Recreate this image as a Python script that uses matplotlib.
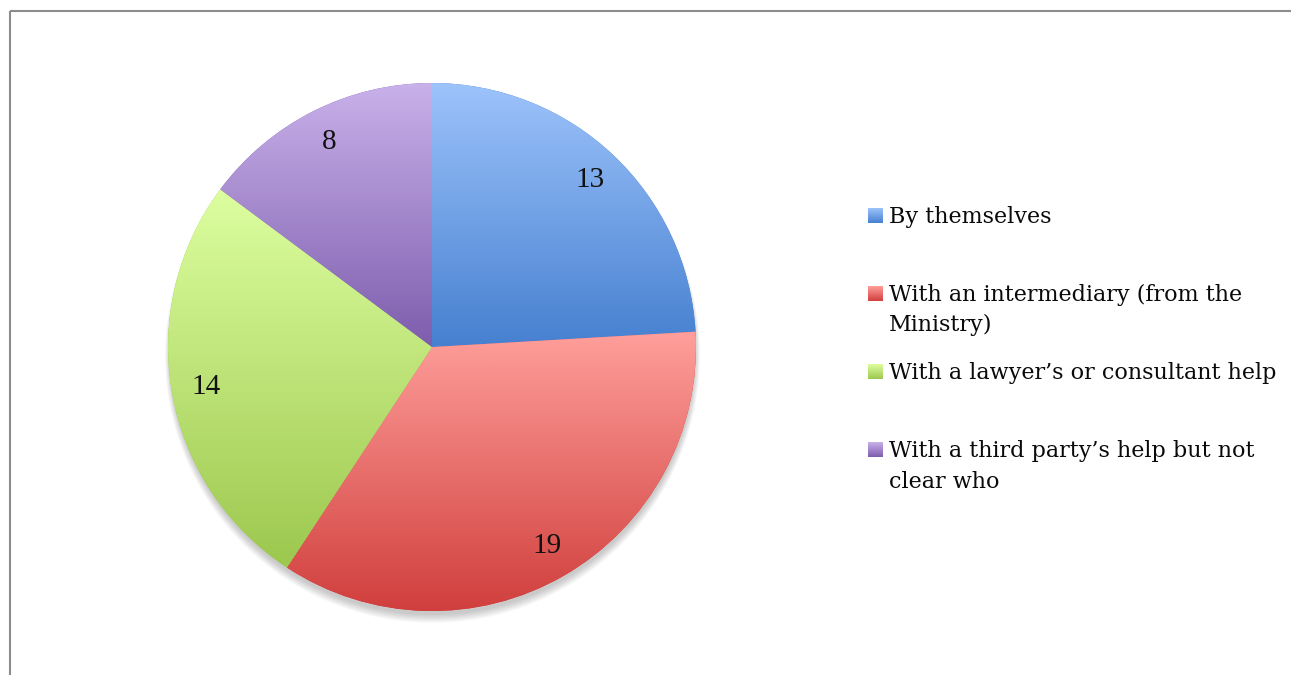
import matplotlib
matplotlib.use("Agg")
import matplotlib.pyplot as plt
import numpy as np
from matplotlib.colors import LinearSegmentedColormap
from matplotlib.patches import Circle, Rectangle

# ---- data ----
categories = [
    "By themselves",
    "With an intermediary (from the\nMinistry)",
    "With a lawyer\u2019s or consultant help",
    "With a third party\u2019s help but not\nclear who",
]
values = [13, 19, 14, 8]
value_labels = [str(v) for v in values]

# gradient colours (top -> bottom) per slice
top_colors = ["#9dc3fb", "#ff9f9b", "#ddfea0", "#c9b1ea"]
bottom_colors = ["#4680d0", "#d03f3d", "#9cc84e", "#7d5dad"]

W, H = 1291, 675
fig = plt.figure(figsize=(W / 100, H / 100), dpi=100)
fig.patch.set_facecolor("white")

# overlay axes in pixel coordinates (border + legend)
ov = fig.add_axes([0, 0, 1, 1], zorder=0)
ov.set_xlim(0, W)
ov.set_ylim(H, 0)
ov.axis("off")
ov.add_patch(Rectangle((9.5, 11), 1400, 800, fill=False, edgecolor="#8c8c8c", linewidth=1.5))

# pie axes
cx, cy, R = 432, 347, 264
ax = fig.add_axes([(cx - R) / W, (H - cy - R) / H, 2 * R / W, 2 * R / H], zorder=1)

# soft shadow, mostly below the pie
for k in range(7):
    ax.add_patch(Circle((0.002, -0.02 - k * 0.002), 0.995 + k * 0.003, facecolor="#000000",
                        alpha=0.03, edgecolor="none", zorder=0))

wedges, texts = ax.pie(
    values,
    labels=value_labels,
    startangle=90,
    counterclock=False,
    labeldistance=0.87,
    radius=1.0,
    colors=bottom_colors,
    wedgeprops=dict(linewidth=0, zorder=1),
    textprops=dict(family="Liberation Serif", fontsize=21, color="#111111"),
)
for t in texts:
    t.set_ha("center")
    t.set_va("center")
    t.set_zorder(5)

grad = np.linspace(0, 1, 256).reshape(-1, 1)
for w, c0, c1 in zip(wedges, top_colors, bottom_colors):
    cmap = LinearSegmentedColormap.from_list("g", [c0, c1])
    ext = w.get_path().get_extents()
    im = ax.imshow(grad, cmap=cmap, aspect="auto", origin="upper",
                   extent=[ext.x0, ext.x1, ext.y0, ext.y1], zorder=2,
                   interpolation="bilinear")
    im.set_clip_path(w)

ax.set_xlim(-1.05, 1.05)
ax.set_ylim(-1.05, 1.05)
ax.set_aspect("equal")
ax.axis("off")
pad = R * 0.05
ax.set_position([(cx - R - pad) / W, (H - cy - R - pad) / H, (2 * R + 2 * pad) / W, (2 * R + 2 * pad) / H])

# legend
sq_x, sq_size = 868, 15
text_x = 889
first_baseline, slot_step, line_step = 223, 78, 30.5
for i, (lab, c0, c1) in enumerate(zip(categories, top_colors, bottom_colors)):
    base = first_baseline + i * slot_step
    cmap = LinearSegmentedColormap.from_list("g", [c0, c1])
    ov.imshow(grad, cmap=cmap, aspect="auto", origin="upper",
              extent=[sq_x, sq_x + sq_size, base, base - sq_size], zorder=2)
    for j, line in enumerate(lab.split("\n")):
        ov.text(text_x, base + j * line_step, line, family="DejaVu Serif",
                fontsize=16, color="#0a0a0a", ha="left", va="baseline")

ov.set_xlim(0, W)
ov.set_ylim(H, 0)

fig.savefig("out.png", dpi=100)
